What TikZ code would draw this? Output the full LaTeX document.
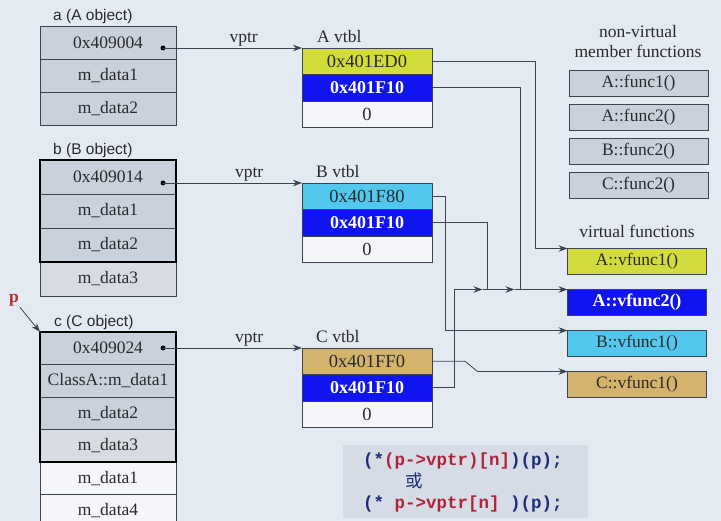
\documentclass[tikz,border=0pt]{standalone}
\usepackage{fontspec}
\setmainfont{Liberation Serif}
\setsansfont{Liberation Sans}
\setmonofont{Liberation Mono}
\newfontfamily\cjk{Noto Sans CJK SC}
\usepackage{tikz}
\usetikzlibrary{arrows.meta,positioning}

\definecolor{bgcol}{HTML}{E4EAF2}
\definecolor{objcol}{HTML}{C8D1DC}
\definecolor{marble}{HTML}{D7DCE3}
\definecolor{paper}{HTML}{F4F6FA}
\definecolor{linecol}{HTML}{3C4450}
\definecolor{txtcol}{HTML}{2A2A2A}
\definecolor{ygreen}{HTML}{D2DC3C}
\definecolor{vblue}{HTML}{1014EE}
\definecolor{vcyan}{HTML}{52C8EE}
\definecolor{vtan}{HTML}{D4B46C}
\definecolor{codebg}{HTML}{D6DCE6}
\definecolor{codenavy}{HTML}{1C2C78}
\definecolor{codered}{HTML}{B02238}
\definecolor{pred}{HTML}{B03030}

\tikzset{
  cell/.style={draw=linecol, line width=0.8pt, fill=objcol, minimum width=136pt,
    minimum height=33pt, inner sep=0pt, outer sep=0pt, text=txtcol,
    font=\fontsize{17.5}{20}\selectfont},
  vcell/.style={cell, minimum width=130pt, minimum height=26.5pt,
    font=\fontsize{18.5}{20}\selectfont},
  fcell/.style={cell, minimum width=139pt, minimum height=26pt},
  hot/.style={fill=vblue, text=white, font=\fontsize{18}{20}\selectfont\bfseries},
  caption/.style={font=\sffamily\fontsize{15.5}{18}\selectfont, text=txtcol,
    anchor=base west, inner sep=0pt},
  title/.style={font=\fontsize{17.5}{20}\selectfont, text=txtcol, align=center, inner sep=0pt},
  ptr/.style={-{Stealth[length=9pt,width=6.5pt]}, draw=linecol, line width=0.8pt},
  link/.style={draw=linecol, line width=0.8pt},
  dot/.style={circle, fill=black, inner sep=0pt, minimum size=5pt},
  frame/.style={draw=black, line width=2.4pt},
}

\begin{document}
\begin{tikzpicture}[x=1pt,y=-1pt]
  \useasboundingbox[fill=bgcol] (0,0) rectangle (721,521);
  \clip (0,0) rectangle (721,521);

  % objects
  \node[cell] (a1) at (108,43) {0x409004};
  \node[cell, below=0pt of a1] (a2) {m\_data1};
  \node[cell, below=0pt of a2] (a3) {m\_data2};
  \node[caption] at ([xshift=13pt,yshift=6pt]a1.north west) {a (A object)};

  \node[cell, minimum height=34pt] (b1) at (108,177) {0x409014};
  \node[cell, minimum height=34pt, below=0pt of b1] (b2) {m\_data1};
  \node[cell, minimum height=34pt, below=0pt of b2] (b3) {m\_data2};
  \node[cell, minimum height=34pt, fill=marble, below=0pt of b3] (b4) {m\_data3};
  \draw[frame] (b1.north west) rectangle (b3.south east);
  \node[caption] at ([xshift=13pt,yshift=5pt]b1.north west) {b (B object)};

  \node[cell, minimum height=32.5pt] (c1) at (108,348.25) {0x409024};
  \node[cell, minimum height=32.5pt, below=0pt of c1] (c2) {ClassA::m\_data1};
  \node[cell, minimum height=32.5pt, below=0pt of c2] (c3) {m\_data2};
  \node[cell, minimum height=32.5pt, fill=marble, below=0pt of c3] (c4) {m\_data3};
  \node[cell, minimum height=32.5pt, fill=paper, below=0pt of c4] (c5) {m\_data1};
  \node[cell, minimum height=32.5pt, fill=paper, below=0pt of c5] (c6) {m\_data4};
  \draw[frame] (c1.north west) rectangle (c4.south east);
  \node[caption] at ([xshift=14pt,yshift=5pt]c1.north west) {c (C object)};

  \node[text=pred, font=\fontsize{17.5}{20}\selectfont\bfseries, inner sep=1pt] (p) at (14,300) {p};
  \draw[ptr] (p) -- (c1.north west);

  % vtbls
  \node[vcell, fill=ygreen] (va1) at (367,61.25) {0x401ED0};
  \node[vcell, hot, below=0pt of va1] (va2) {0x401F10};
  \node[vcell, fill=paper, below=0pt of va2] (va3) {0};
  \node[title, anchor=base west] at ([xshift=15pt,yshift=5pt]va1.north west) {A vtbl};

  \node[vcell, fill=vcyan] (vb1) at (367,196.25) {0x401F80};
  \node[vcell, hot, below=0pt of vb1] (vb2) {0x401F10};
  \node[vcell, fill=paper, below=0pt of vb2] (vb3) {0};
  \node[title, anchor=base west] at ([xshift=14pt,yshift=5pt]vb1.north west) {B vtbl};

  \node[vcell, fill=vtan] (vc1) at (367,361.25) {0x401FF0};
  \node[vcell, hot, below=0pt of vc1] (vc2) {0x401F10};
  \node[vcell, fill=paper, below=0pt of vc2] (vc3) {0};
  \node[title, anchor=base west] at ([xshift=14pt,yshift=5pt]vc1.north west) {C vtbl};

  % vptr
  \node[dot, xshift=-13pt] (pa) at (a1.east |- va1.north) {};
  \node[dot, xshift=-13pt] (pb) at (b1.east |- vb1.north) {};
  \node[dot, xshift=-13pt] (pc) at (c1.east |- vc1.north) {};
  \foreach \o/\v/\s in {pa/va1/0.58, pb/vb1/0.62, pc/vc1/0.62}
    \draw[ptr] (\o.center) -- (\o -| \v.west)
      node[pos=\s, above, title, inner sep=1.5pt] {vptr};

  % member functions
  \node[title] at (638,42) {non-virtual\\member functions};
  \node[fcell] (f1) at (638.5,83) {A::func1()};
  \node[fcell, below=8pt of f1] (f2) {A::func2()};
  \node[fcell, below=8pt of f2] (f3) {B::func2()};
  \node[fcell, below=8pt of f3] (f4) {C::func2()};

  \node[title] at (637,231) {virtual functions};
  \node[fcell, fill=ygreen] (vf1) at (637,261.5) {A::vfunc1()};
  \node[fcell, hot, below=15pt of vf1] (vf2) {A::vfunc2()};
  \node[fcell, fill=vcyan, below=15pt of vf2] (vf3) {B::vfunc1()};
  \node[fcell, fill=vtan, below=15pt of vf3] (vf4) {C::vfunc1()};

  % slots
  \coordinate (j1) at ([xshift=-80pt]vf2.north west);
  \coordinate (j2) at ([xshift=-47pt]vf2.north west);
  \draw[ptr] (va1.east) -- ++(103,0) |- (vf1.north west);
  \draw[link] (va2.east) -| (j2);
  \draw[ptr] (vb1.east) -- ++(13,0) |- (vf3.north west);
  \draw[link] (vb2.east) -| (j1);
  \draw[ptr] (vc1.east) -- ++(33,0) -- ([xshift=-90pt]vf4.north west) -- (vf4.north west);
  \draw[ptr] (vc2.east) -- ++(22,0) |- ([xshift=-5pt]j1);
  \draw[ptr] ([xshift=-5pt]j1) -- ([xshift=-6pt]j2);
  \draw[ptr] ([xshift=-6pt]j2) -- (vf2.north west);

  % call
  \node[fill=codebg, minimum width=245pt, minimum height=73pt, inner sep=0pt] (code) at (465.5,481.5) {};
  \node[anchor=west, align=left, inner sep=0pt, font=\ttfamily\bfseries\fontsize{17.5}{21.5}\selectfont]
    at ([xshift=20pt,yshift=-1pt]code.west) {%
    {\color{codenavy}(*}{\color{codered}(p->vptr)[n]}{\color{codenavy})(p);}\\
    \hspace*{42pt}{\color{codenavy}\cjk\mdseries 或}\\
    {\color{codenavy}(*~}{\color{codered}p->vptr[n]}{\color{codenavy}~)(p);}};
\end{tikzpicture}
\end{document}
